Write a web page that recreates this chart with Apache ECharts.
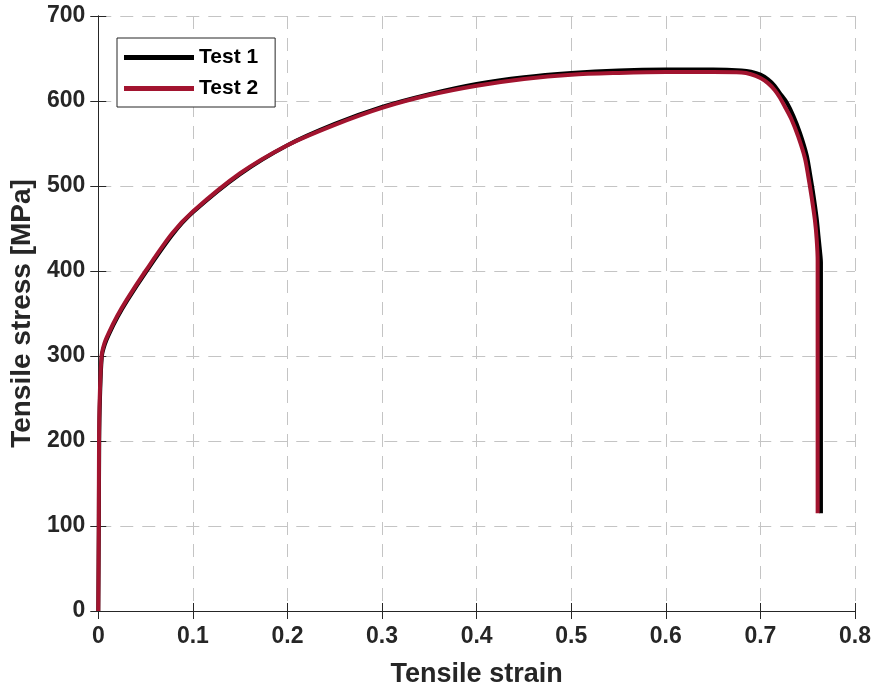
<!DOCTYPE html>
<html>
<head>
<meta charset="utf-8">
<script src="https://cdn.jsdelivr.net/npm/echarts@6/dist/echarts.min.js"></script>
<style>
  html, body { margin: 0; padding: 0; background: #fff; }
  #chart { width: 875px; height: 693px; }
</style>
</head>
<body>
<div id="chart"></div>
<script>
  // values
  var strain1 = [0, 0.0006, 0.001, 0.0018, 0.0038, 0.007, 0.0115, 0.0205, 0.0305, 0.0505, 0.0785, 0.1, 0.15, 0.2, 0.25, 0.3, 0.35, 0.4, 0.45, 0.5, 0.55, 0.6, 0.65, 0.68, 0.69, 0.7, 0.708, 0.715, 0.72, 0.728, 0.735, 0.742, 0.749, 0.7525, 0.756, 0.7595, 0.7615, 0.7635, 0.764, 0.764];
  var stress1 = [0, 100, 200, 250, 300, 314, 326, 346, 365, 399, 443, 469, 514, 548, 573, 593, 608, 620, 628, 633, 636, 637, 637, 636, 634.5, 631, 625.5, 618, 610, 598, 582, 562, 536, 514, 490, 462, 440, 418, 410, 115];

  var strain2 = [0, 0.0005, 0.0008, 0.0015, 0.0035, 0.0065, 0.011, 0.02, 0.03, 0.05, 0.078, 0.1, 0.15, 0.2, 0.25, 0.3, 0.35, 0.4, 0.45, 0.5, 0.55, 0.6, 0.65, 0.68, 0.69, 0.7, 0.708, 0.715, 0.72, 0.726, 0.733, 0.74, 0.747, 0.7505, 0.754, 0.7576, 0.7595, 0.7605, 0.7605];
  var stress2 = [0, 100, 200, 250, 300, 315, 327, 347, 366, 400, 444, 470, 515, 548, 572, 592, 607, 618, 626, 631, 633, 634, 634, 633.5, 631.5, 627, 621, 613, 605, 593, 578, 558, 533, 512, 488, 460, 437, 412, 115];

  var xTicks = ['0', '0.1', '0.2', '0.3', '0.4', '0.5', '0.6', '0.7', '0.8'];

  function pairs(xs, ys) {
    return xs.map(function (x, i) { return [x, ys[i]]; });
  }

  var axisColor = '#262626';
  var gridColor = '#c4c4c4';
  var font = 'Liberation Sans, Arial, sans-serif';

  var chart = echarts.init(document.getElementById('chart'));
  var option = {
    animation: false,
    grid: { left: 98, right: 20, top: 16, bottom: 81 },
    legend: {
      orient: 'vertical',
      left: 117,
      top: 38,
      itemWidth: 70,
      itemHeight: 5,
      itemGap: 4,
      padding: [6, 17, 5, 7],
      borderColor: '#262626',
      borderWidth: 1,
      backgroundColor: '#fff',
      icon: 'rect',
      textStyle: { fontFamily: font, fontWeight: 'bold', fontSize: 21, lineHeight: 27, color: '#000' },
      data: ['Test 1', 'Test 2']
    },
    xAxis: [
      {
        type: 'value',
        min: 0, max: 0.8, interval: 0.1,
        name: 'Tensile strain',
        nameLocation: 'middle',
        nameGap: 50,
        nameTextStyle: { fontFamily: font, fontWeight: 'bold', fontSize: 27, color: axisColor },
        axisLine: { show: true, lineStyle: { color: axisColor, width: 1 } },
        axisTick: { show: true, inside: true, length: 8, lineStyle: { color: axisColor } },
        axisLabel: {
          margin: 14, fontFamily: font, fontWeight: 'bold', fontSize: 23, color: axisColor,
          formatter: function (v) { return xTicks[Math.round(v * 10)]; }
        },
        splitLine: { show: true, lineStyle: { color: gridColor, type: [13, 9], width: 1 } }
      },
      {
        type: 'value', position: 'top',
        min: 0, max: 0.8, interval: 0.1,
        axisLine: { show: true, lineStyle: { color: axisColor, width: 1 } },
        axisTick: { show: true, inside: true, length: 8, lineStyle: { color: axisColor } },
        axisLabel: { show: false },
        splitLine: { show: false }
      }
    ],
    yAxis: [
      {
        type: 'value',
        min: 0, max: 700, interval: 100,
        name: 'Tensile stress [MPa]',
        nameLocation: 'middle',
        nameGap: 59,
        nameTextStyle: { fontFamily: font, fontWeight: 'bold', fontSize: 28, color: axisColor },
        axisLine: { show: true, lineStyle: { color: axisColor, width: 1 } },
        axisTick: { show: true, inside: true, length: 8, lineStyle: { color: axisColor } },
        axisLabel: { margin: 13, fontFamily: font, fontWeight: 'bold', fontSize: 23, color: axisColor },
        splitLine: { show: true, lineStyle: { color: gridColor, type: [13, 9], width: 1 } }
      },
      {
        type: 'value', position: 'right',
        min: 0, max: 700, interval: 100,
        axisLine: { show: true, lineStyle: { color: axisColor, width: 1 } },
        axisTick: { show: true, inside: true, length: 8, lineStyle: { color: axisColor } },
        axisLabel: { show: false },
        splitLine: { show: false }
      }
    ],
    series: [
      {
        name: 'Test 1',
        type: 'line',
        data: pairs(strain1, stress1),
        showSymbol: false,
        smooth: 0.3,
        color: '#000000',
        lineStyle: { color: '#000000', width: 4 }
      },
      {
        name: 'Test 2',
        type: 'line',
        data: pairs(strain2, stress2),
        showSymbol: false,
        smooth: 0.3,
        color: '#a2142f',
        lineStyle: { color: '#a2142f', width: 4 }
      }
    ]
  };
  chart.setOption(option);
</script>
</body>
</html>
